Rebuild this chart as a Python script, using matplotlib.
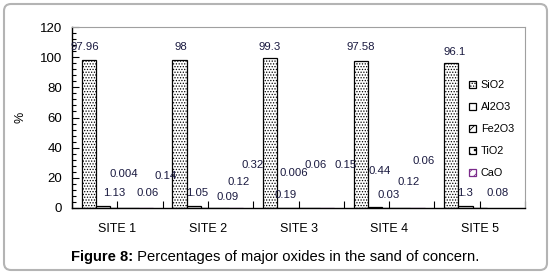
import numpy as np
import matplotlib
matplotlib.use("Agg")
import matplotlib.pyplot as plt
from matplotlib.patches import FancyBboxPatch
from matplotlib.transforms import IdentityTransform
from matplotlib.text import Annotation

plt.rcParams['font.family'] = ['Liberation Sans', 'DejaVu Sans']
plt.rcParams['hatch.linewidth'] = 0.6

# data
sites = ['SITE 1', 'SITE 2', 'SITE 3', 'SITE 4', 'SITE 5']
oxides = ['SiO2', 'Al2O3', 'Fe2O3', 'TiO2', 'CaO']
sio2 = [97.96, 98, 99.3, 97.58, 96.1]
al2o3 = [1.13, 1.05, 0.19, 0.44, 1.3]
fe2o3 = [0.004, 0.09, 0.006, 0.03, 0.08]
tio2 = [0.06, 0.12, 0.06, 0.12, np.nan]
cao = [0.14, 0.32, 0.15, 0.06, np.nan]
series = [sio2, al2o3, fe2o3, tio2, cao]

# bar styles
hatches = ['......', '', '////', 'xx..', '////']
edges = ['black', 'black', 'black', 'black', '#7a2a8a']

# label offsets (pixels) from the top of each bar, moved by hand in the original
label_dx = [[-4, 1, 0, 0, 3],
            [11, 3, 1, 5, 0],
            [7, 20, -5, 0, 18],
            [16, 17, 3, 5, 0],
            [20, 16, 19, 6, 0]]
label_dy = [[13, 13, 11, 14, 11],
            [13, 13, 13, 36, 13],
            [34, 11, 35, 13, 15],
            [15, 26, 43, 26, 0],
            [32, 43, 43, 47, 0]]

fig = plt.figure(figsize=(5.52, 2.73), dpi=100)
ax = fig.add_axes([72/552, 65/273, 453/552, 181/273])

x = np.arange(len(sites))
width = 0.157
for i, vals in enumerate(series):
    pos = x + (i - 2) * width
    ax.bar(pos, vals, width, facecolor='white', hatch=hatches[i],
           edgecolor=edges[i], linewidth=0.9, label=oxides[i])
    for j, v in enumerate(vals):
        if np.isnan(v):
            continue
        ax.annotate(f'{v:g}', xy=(pos[j], v), xytext=(label_dx[i][j], label_dy[i][j]),
                    textcoords='offset pixels', ha='center', va='center',
                    fontsize=8.2, color='#1a1a40')

ax.set_xlim(-0.5, 4.5)
ax.set_ylim(0, 120)
ax.set_yticks(np.arange(0, 121, 20))
ax.set_yticks(np.arange(0, 121, 4), minor=True)
ax.set_xticks(x)
ax.set_xticks(np.arange(-0.5, 4.6, 1), minor=True)
ax.set_xticklabels(sites)
ax.tick_params(axis='y', which='major', direction='in', length=5, width=0.8, labelsize=9.5, pad=7)
ax.tick_params(axis='y', which='minor', direction='in', length=3, width=0.8)
ax.tick_params(axis='x', which='both', direction='in', length=5, width=0.8, labelsize=9, pad=11)

for s in ['top', 'right']:
    ax.spines[s].set_color('#a0a0a0')
for s in ['left', 'bottom']:
    ax.spines[s].set_color('black')
    ax.spines[s].set_linewidth(1.0)

ax.set_ylabel('%', fontsize=9)
ax.yaxis.set_label_coords(-45/453, 0.5)

ax.legend(loc='upper left', bbox_to_anchor=(464/552, 1 - 75/273), bbox_transform=fig.transFigure,
          frameon=False, fontsize=7.8, handlelength=0.65, handleheight=0.65,
          handletextpad=0.4, labelspacing=1.1, borderpad=0)

# caption: bold prefix followed by plain text
t1 = fig.text(71/552, 1 - 257/273, 'Figure 8:', fontsize=10.6, fontweight='bold', va='center')
fig.add_artist(Annotation(' Percentages of major oxides in the sand of concern.',
                          xy=(1, 0), xycoords=t1, va='bottom', fontsize=10.6))

border = FancyBboxPatch((4, 3), 543, 266, boxstyle='round,pad=0,rounding_size=7',
                        transform=IdentityTransform(), facecolor='none',
                        edgecolor='#b4b4b4', linewidth=1.5)
fig.add_artist(border)

fig.savefig('out.png', dpi=100)
